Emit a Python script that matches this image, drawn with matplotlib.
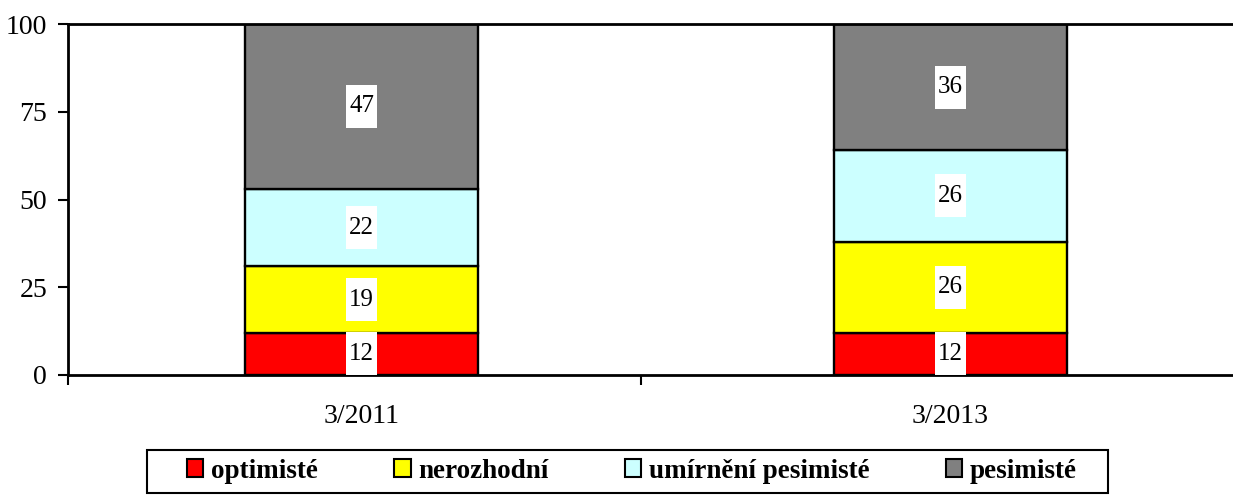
import matplotlib
matplotlib.use("Agg")
import matplotlib.pyplot as plt
import matplotlib.transforms as mtrans
from matplotlib.patches import Patch, Rectangle
import numpy as np

plt.rcParams['font.family'] = ['Liberation Serif', 'DejaVu Serif']

categories = ["3/2011", "3/2013"]
series_names = ["optimisté", "nerozhodní", "umírnění pesimisté", "pesimisté"]
optimiste = [12, 12]
nerozhodni = [19, 26]
umirneni = [22, 26]
pesimiste = [47, 36]
colors = ["#FF0000", "#FFFF00", "#CCFFFF", "#808080"]
yticks = [0, 25, 50, 75, 100]

W, H = 1233, 501
fig = plt.figure(figsize=(W / 100, H / 100), dpi=100)
ax_left, ax_right = 68, 1233
ax_top, ax_bot = 24, 375
ax = fig.add_axes([ax_left / W, 1 - ax_bot / H, (ax_right - ax_left) / W, (ax_bot - ax_top) / H])

spacing = 589.0
x = np.arange(len(categories))
xl = (ax_left - 361.5) / spacing
xr = (ax_right - 361.5) / spacing
width = 233 / spacing

series = [optimiste, nerozhodni, umirneni, pesimiste]
bottom = np.zeros(len(categories))
for vals, c in zip(series, colors):
    vals = np.array(vals, dtype=float)
    ax.bar(x, vals, width=width, bottom=bottom, color=c, edgecolor="black", linewidth=1.7, zorder=2)
    for xi, b, v in zip(x, bottom, vals):
        yc = b + v / 2
        tr = fig.dpi_scale_trans + mtrans.ScaledTranslation(xi, yc, ax.transData)
        ax.add_patch(Rectangle((-0.155, -0.215), 0.31, 0.43, transform=tr,
                               facecolor="white", edgecolor="none", zorder=3, clip_on=False))
        ax.text(xi, yc, f"{int(v)}", ha="center", va="center", fontsize=18, zorder=4)
    bottom += vals

ax.set_xlim(xl, xr)
ax.set_ylim(0, 100)
ax.set_yticks(yticks)
ax.set_yticklabels([str(t) for t in yticks], fontsize=20)
ax.set_xticks(x)
ax.set_xticklabels(categories, fontsize=20)
ax.tick_params(axis="x", which="major", length=0, pad=21)
ax.set_xticks([xl, (641 - 361.5) / spacing], minor=True)
ax.tick_params(axis="x", which="minor", length=7, width=1.5, direction="out")
ax.tick_params(axis="y", length=7, width=1.5, direction="out", pad=8)
for s in ["left", "bottom", "top"]:
    ax.spines[s].set_linewidth(2)
ax.spines["right"].set_visible(False)

# legend frame
fig.patches.append(Rectangle((147 / W, 1 - 493 / H), (1108 - 147) / W, (493 - 450) / H,
                             transform=fig.transFigure, facecolor="white", edgecolor="black",
                             linewidth=1.5, zorder=0))
handles = [Patch(facecolor=c, edgecolor="black", linewidth=1.5) for c in colors]
leg = fig.legend(handles, series_names, loc="center", bbox_to_anchor=(632 / W, 1 - 471 / H),
                 ncol=4, frameon=False, handlelength=0.6, handleheight=0.6,
                 handletextpad=0.28, columnspacing=2.83, borderpad=0.3,
                 prop={"weight": "bold", "size": 19.5})

fig.savefig("out.png", dpi=100)
